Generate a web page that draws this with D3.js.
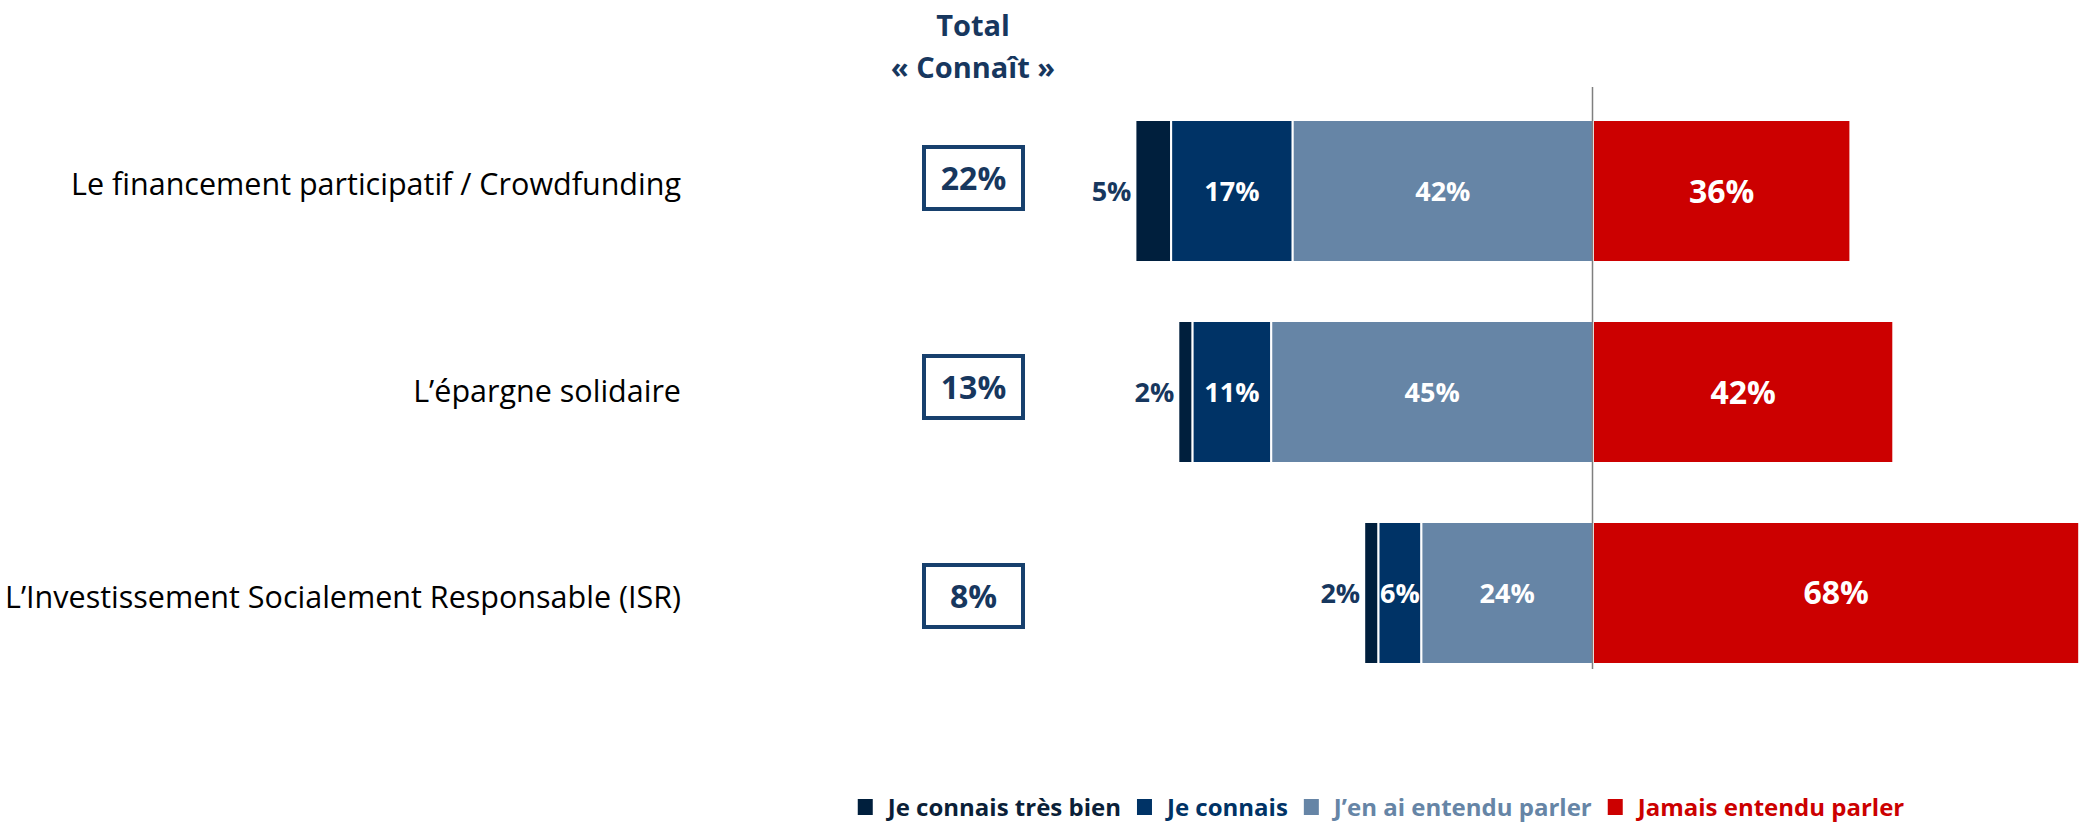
<html lang="fr">
<head>
  <meta charset="UTF-8"/>
  <title>Notoriété des placements solidaires</title>
  <script src="https://d3js.org/d3.v7.min.js"></script>
  <style>
    body { margin: 0; background: #fff; }
    svg { display: block; font-family: 'Open Sans', sans-serif; }
  </style>
</head>
<body>
  <svg width="2093" height="825"></svg>

  <script>

  const categories = [
    'Le financement participatif / Crowdfunding',
    'L’épargne solidaire',
    'L’Investissement Socialement Responsable (ISR)'
  ];
  const totals = [22, 13, 8];
  const tresBien = [5, 2, 2];
  const connais = [17, 11, 6];
  const entendu = [42, 45, 24];
  const jamais = [36, 42, 68];

  const seriesNames = ['Je connais très bien', 'Je connais', 'J’en ai entendu parler', 'Jamais entendu parler'];
  const seriesColors = ['#001f3d', '#003366', '#6685a6', '#cc0000'];
  const legendTextColors = ['#0b1f38', '#003366', '#6685a6', '#cc0000'];

  const svg = d3.select('svg');

  const zero = 1593;
  const pxPerPct = 7.15;

  const xScale = d3.scaleLinear()
    .domain([-100, 100])
    .range([zero - 100 * pxPerPct, zero + 100 * pxPerPct]);

  const yScale = d3.scaleBand()
    .domain(categories)
    .range([90.5, 693.5])
    .paddingInner(0.2935)
    .paddingOuter(0.1468);

  // labels and boxes sit a bit off the bar centres in the original
  const labelScale = d3.scalePoint()
    .domain(categories)
    .range([184, 597]);

  const boxScale = d3.scalePoint()
    .domain(categories)
    .range([178, 596]);

  // build segments: left side stacks away from zero
  const rows = categories.map((c, i) => {
    const segs = [];
    let left = -(tresBien[i] + connais[i] + entendu[i]);
    [tresBien[i], connais[i], entendu[i]].forEach((v, k) => {
      segs.push({ cat: c, k: k, v: v, x0: left, x1: left + v });
      left += v;
    });
    segs.push({ cat: c, k: 3, v: jamais[i], x0: 0, x1: jamais[i] });
    return segs;
  });
  const segments = rows.flat();

  // category labels
  svg.append('g')
    .selectAll('text')
    .data(categories)
    .join('text')
    .attr('x', 681)
    .attr('y', (d) => labelScale(d) + 11)
    .attr('text-anchor', 'end')
    .attr('font-size', 30.5)
    .attr('fill', '#000')
    .text((d) => d);

  // Total header
  const header = svg.append('text')
    .attr('x', 973)
    .attr('text-anchor', 'middle')
    .attr('font-weight', 700)
    .attr('font-size', 29)
    .attr('fill', '#17375e');
  header.append('tspan').attr('x', 973).attr('y', 36).text('Total');
  header.append('tspan').attr('x', 973).attr('y', 78).text('« Connaît »');

  // total boxes
  const boxes = svg.append('g')
    .selectAll('g')
    .data(categories)
    .join('g')
    .attr('transform', (d) => `translate(973.5, ${boxScale(d)})`);

  boxes.append('rect')
    .attr('x', -49.5)
    .attr('y', -31)
    .attr('width', 99)
    .attr('height', 62)
    .attr('fill', 'none')
    .attr('stroke', '#17406d')
    .attr('stroke-width', 4);

  boxes.append('text')
    .attr('text-anchor', 'middle')
    .attr('y', 11.5)
    .attr('font-weight', 700)
    .attr('font-size', 32)
    .attr('fill', '#17375e')
    .text((d, i) => `${totals[i]}%`);

  // bars
  svg.append('g')
    .selectAll('rect')
    .data(segments)
    .join('rect')
    .attr('x', (d) => xScale(d.x0))
    .attr('y', (d) => yScale(d.cat))
    .attr('width', (d) => xScale(d.x1) - xScale(d.x0))
    .attr('height', yScale.bandwidth())
    .attr('fill', (d) => seriesColors[d.k])
    .attr('stroke', '#fff')
    .attr('stroke-width', 2);

  // zero line
  svg.append('line')
    .attr('x1', xScale(0) - 0.5)
    .attr('x2', xScale(0) - 0.5)
    .attr('y1', 87)
    .attr('y2', 669)
    .attr('stroke', '#7f7f7f')
    .attr('stroke-width', 1.5);

  // segment labels
  svg.append('g')
    .selectAll('text')
    .data(segments)
    .join('text')
    .attr('x', (d) => d.k === 0 ? xScale(d.x0) - 4 : xScale((d.x0 + d.x1) / 2))
    .attr('y', (d) => yScale(d.cat) + yScale.bandwidth() / 2 + (d.k === 3 ? 11.5 : 10))
    .attr('text-anchor', (d) => d.k === 0 ? 'end' : 'middle')
    .attr('font-weight', 700)
    .attr('font-size', (d) => d.k === 3 ? 32 : 27)
    .attr('fill', (d) => d.k === 0 ? '#17375e' : '#fff')
    .text((d) => `${d.v}%`);

  // legend
  const legend = svg.append('g');
  const items = legend.selectAll('g')
    .data(seriesNames)
    .join('g');

  items.append('rect')
    .attr('y', 799)
    .attr('width', 15)
    .attr('height', 16)
    .attr('fill', (d, i) => seriesColors[i]);

  items.append('text')
    .attr('x', 30)
    .attr('y', 816)
    .attr('font-weight', 700)
    .attr('font-size', 24)
    .attr('fill', (d, i) => legendTextColors[i])
    .text((d) => d);

  let pos = 0;
  const offsets = [];
  items.each(function () {
    offsets.push(pos);
    const w = d3.select(this).select('text').node().getComputedTextLength();
    pos += 30 + w + 16;
  });
  const total = pos - 16;
  const start = 1381 - total / 2;
  items.attr('transform', (d, i) => `translate(${start + offsets[i]}, 0)`);

  </script>
</body>
</html>
